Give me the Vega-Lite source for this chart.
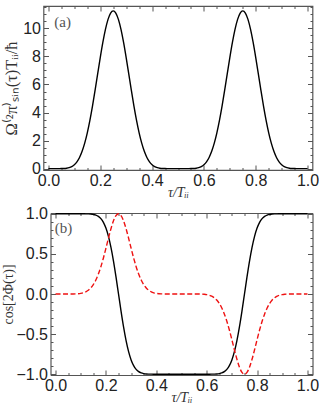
{
  "$schema": "https://vega.github.io/schema/vega-lite/v6.json",
  "padding": {"left": 1.5, "top": 4, "right": 0, "bottom": 0},
  "spacing": 5,
  "datasets": {
    "curves": [
      {"t":0.00,"o":0,"c":1,"s":0},{"t":0.01,"o":0,"c":1,"s":0},{"t":0.02,"o":0,"c":1,"s":0},{"t":0.03,"o":0,"c":1,"s":0},
      {"t":0.04,"o":0.001,"c":1,"s":0},{"t":0.05,"o":0.003,"c":1,"s":0},{"t":0.06,"o":0.010,"c":1,"s":0.0001},
      {"t":0.07,"o":0.029,"c":1,"s":0.0005},{"t":0.08,"o":0.068,"c":1,"s":0.0015},{"t":0.09,"o":0.143,"c":1,"s":0.0035},
      {"t":0.10,"o":0.273,"c":1,"s":0.0075},{"t":0.11,"o":0.481,"c":0.9999,"s":0.0147},{"t":0.12,"o":0.793,"c":0.9996,"s":0.0269},
      {"t":0.13,"o":1.231,"c":0.9989,"s":0.0463},{"t":0.14,"o":1.814,"c":0.9972,"s":0.0755},{"t":0.15,"o":2.552,"c":0.9931,"s":0.1172},
      {"t":0.16,"o":3.441,"c":0.9847,"s":0.1741},{"t":0.17,"o":4.464,"c":0.9687,"s":0.2482},{"t":0.18,"o":5.586,"c":0.9403,"s":0.3403},
      {"t":0.19,"o":6.757,"c":0.8935,"s":0.4490},{"t":0.20,"o":7.917,"c":0.8216,"s":0.5700},{"t":0.21,"o":8.997,"c":0.7187,"s":0.6953},
      {"t":0.22,"o":9.927,"c":0.5814,"s":0.8137},{"t":0.23,"o":10.644,"c":0.4105,"s":0.9119},{"t":0.24,"o":11.096,"c":0.2128,"s":0.9771},
      {"t":0.25,"o":11.25,"c":0,"s":1},
      {"t":0.26,"o":11.096,"c":-0.2128,"s":0.9771},{"t":0.27,"o":10.644,"c":-0.4105,"s":0.9119},{"t":0.28,"o":9.927,"c":-0.5814,"s":0.8137},
      {"t":0.29,"o":8.997,"c":-0.7187,"s":0.6953},{"t":0.30,"o":7.917,"c":-0.8216,"s":0.5700},{"t":0.31,"o":6.757,"c":-0.8935,"s":0.4490},
      {"t":0.32,"o":5.586,"c":-0.9403,"s":0.3403},{"t":0.33,"o":4.464,"c":-0.9687,"s":0.2482},{"t":0.34,"o":3.441,"c":-0.9847,"s":0.1741},
      {"t":0.35,"o":2.552,"c":-0.9931,"s":0.1172},{"t":0.36,"o":1.814,"c":-0.9972,"s":0.0755},{"t":0.37,"o":1.231,"c":-0.9989,"s":0.0463},
      {"t":0.38,"o":0.793,"c":-0.9996,"s":0.0269},{"t":0.39,"o":0.481,"c":-0.9999,"s":0.0147},{"t":0.40,"o":0.273,"c":-1,"s":0.0075},
      {"t":0.41,"o":0.143,"c":-1,"s":0.0035},{"t":0.42,"o":0.068,"c":-1,"s":0.0015},{"t":0.43,"o":0.029,"c":-1,"s":0.0005},
      {"t":0.44,"o":0.010,"c":-1,"s":0.0001},{"t":0.45,"o":0.003,"c":-1,"s":0},{"t":0.46,"o":0.001,"c":-1,"s":0},
      {"t":0.47,"o":0,"c":-1,"s":0},{"t":0.48,"o":0,"c":-1,"s":0},{"t":0.49,"o":0,"c":-1,"s":0},{"t":0.50,"o":0,"c":-1,"s":0},
      {"t":0.51,"o":0,"c":-1,"s":0},{"t":0.52,"o":0,"c":-1,"s":0},{"t":0.53,"o":0,"c":-1,"s":0},
      {"t":0.54,"o":0.001,"c":-1,"s":0},{"t":0.55,"o":0.003,"c":-1,"s":0},{"t":0.56,"o":0.010,"c":-1,"s":-0.0001},
      {"t":0.57,"o":0.029,"c":-1,"s":-0.0005},{"t":0.58,"o":0.068,"c":-1,"s":-0.0015},{"t":0.59,"o":0.143,"c":-1,"s":-0.0035},
      {"t":0.60,"o":0.273,"c":-1,"s":-0.0075},{"t":0.61,"o":0.481,"c":-0.9999,"s":-0.0147},{"t":0.62,"o":0.793,"c":-0.9996,"s":-0.0269},
      {"t":0.63,"o":1.231,"c":-0.9989,"s":-0.0463},{"t":0.64,"o":1.814,"c":-0.9972,"s":-0.0755},{"t":0.65,"o":2.552,"c":-0.9931,"s":-0.1172},
      {"t":0.66,"o":3.441,"c":-0.9847,"s":-0.1741},{"t":0.67,"o":4.464,"c":-0.9687,"s":-0.2482},{"t":0.68,"o":5.586,"c":-0.9403,"s":-0.3403},
      {"t":0.69,"o":6.757,"c":-0.8935,"s":-0.4490},{"t":0.70,"o":7.917,"c":-0.8216,"s":-0.5700},{"t":0.71,"o":8.997,"c":-0.7187,"s":-0.6953},
      {"t":0.72,"o":9.927,"c":-0.5814,"s":-0.8137},{"t":0.73,"o":10.644,"c":-0.4105,"s":-0.9119},{"t":0.74,"o":11.096,"c":-0.2128,"s":-0.9771},
      {"t":0.75,"o":11.25,"c":0,"s":-1},
      {"t":0.76,"o":11.096,"c":0.2128,"s":-0.9771},{"t":0.77,"o":10.644,"c":0.4105,"s":-0.9119},{"t":0.78,"o":9.927,"c":0.5814,"s":-0.8137},
      {"t":0.79,"o":8.997,"c":0.7187,"s":-0.6953},{"t":0.80,"o":7.917,"c":0.8216,"s":-0.5700},{"t":0.81,"o":6.757,"c":0.8935,"s":-0.4490},
      {"t":0.82,"o":5.586,"c":0.9403,"s":-0.3403},{"t":0.83,"o":4.464,"c":0.9687,"s":-0.2482},{"t":0.84,"o":3.441,"c":0.9847,"s":-0.1741},
      {"t":0.85,"o":2.552,"c":0.9931,"s":-0.1172},{"t":0.86,"o":1.814,"c":0.9972,"s":-0.0755},{"t":0.87,"o":1.231,"c":0.9989,"s":-0.0463},
      {"t":0.88,"o":0.793,"c":0.9996,"s":-0.0269},{"t":0.89,"o":0.481,"c":0.9999,"s":-0.0147},{"t":0.90,"o":0.273,"c":1,"s":-0.0075},
      {"t":0.91,"o":0.143,"c":1,"s":-0.0035},{"t":0.92,"o":0.068,"c":1,"s":-0.0015},{"t":0.93,"o":0.029,"c":1,"s":-0.0005},
      {"t":0.94,"o":0.010,"c":1,"s":-0.0001},{"t":0.95,"o":0.003,"c":1,"s":0},{"t":0.96,"o":0.001,"c":1,"s":0},
      {"t":0.97,"o":0,"c":1,"s":0},{"t":0.98,"o":0,"c":1,"s":0},{"t":0.99,"o":0,"c":1,"s":0},{"t":1.00,"o":0,"c":1,"s":0}
    ],
    "labA": [{"t":0.055,"v":10.45,"lab":"(a)"}],
    "labB": [{"t":0.032,"v":0.82,"lab":"(b)"}]
  },
  "vconcat": [
    {
      "width": 269,
      "height": 164,
      "resolve": {"axis": {"x": "independent", "y": "independent"}},
      "layer": [
        {
          "data": {"name": "curves"},
          "mark": {"type": "line", "color": "#000000", "strokeWidth": 1.4, "interpolate": "monotone"},
          "encoding": {
            "x": {"field": "t", "type": "quantitative", "scale": {"domain": [-0.019, 1.019], "nice": false, "zero": false},
                  "axis": {"orient": "bottom", "values": [0,0.2,0.4,0.6,0.8,1], "format": ".1f", "tickSize": -5, "labelPadding": 7, "title": "τ/Tᵢᵢ", "titleFontStyle": "italic", "titlePadding": -3}},
            "y": {"field": "o", "type": "quantitative", "scale": {"domain": [-0.1, 11.6], "nice": false, "zero": false},
                  "axis": {"orient": "left", "values": [0,2,4,6,8,10], "format": "d", "tickSize": -5, "labelPadding": 8, "title": "Ω⁽²π⁾ₛᵢₙ(τ)Tᵢᵢ/ħ", "titleFontSize": 16.5, "titlePadding": 3.5}}
          }
        },
        {
          "data": {"name": "curves"},
          "mark": {"type": "line", "opacity": 0},
          "encoding": {
            "x": {"field": "t", "type": "quantitative", "scale": {"domain": [-0.019, 1.019], "nice": false, "zero": false},
                  "axis": {"orient": "top", "values": [0,0.2,0.4,0.6,0.8,1], "labels": false, "tickSize": -5, "title": null}},
            "y": {"field": "o", "type": "quantitative", "scale": {"domain": [-0.1, 11.6], "nice": false, "zero": false},
                  "axis": {"orient": "right", "values": [0,2,4,6,8,10], "labels": false, "tickSize": -5, "title": null}}
          }
        },
        {
          "data": {"name": "curves"},
          "mark": {"type": "line", "opacity": 0},
          "encoding": {
            "x": {"field": "t", "type": "quantitative", "scale": {"domain": [-0.019, 1.019], "nice": false, "zero": false},
                  "axis": {"orient": "bottom", "values": [0.05,0.1,0.15,0.25,0.3,0.35,0.45,0.5,0.55,0.65,0.7,0.75,0.85,0.9,0.95], "labels": false, "tickSize": -2.5, "title": null}},
            "y": {"field": "o", "type": "quantitative", "scale": {"domain": [-0.1, 11.6], "nice": false, "zero": false},
                  "axis": {"orient": "left", "values": [0.5,1,1.5,2.5,3,3.5,4.5,5,5.5,6.5,7,7.5,8.5,9,9.5,10.5,11,11.5], "labels": false, "tickSize": -2.5, "title": null}}
          }
        },
        {
          "data": {"name": "curves"},
          "mark": {"type": "line", "opacity": 0},
          "encoding": {
            "x": {"field": "t", "type": "quantitative", "scale": {"domain": [-0.019, 1.019], "nice": false, "zero": false},
                  "axis": {"orient": "top", "values": [0.05,0.1,0.15,0.25,0.3,0.35,0.45,0.5,0.55,0.65,0.7,0.75,0.85,0.9,0.95], "labels": false, "tickSize": -2.5, "title": null}},
            "y": {"field": "o", "type": "quantitative", "scale": {"domain": [-0.1, 11.6], "nice": false, "zero": false},
                  "axis": {"orient": "right", "values": [0.5,1,1.5,2.5,3,3.5,4.5,5,5.5,6.5,7,7.5,8.5,9,9.5,10.5,11,11.5], "labels": false, "tickSize": -2.5, "title": null}}
          }
        },
        {
          "data": {"name": "labA"},
          "mark": {"type": "text", "font": "Liberation Serif", "fontSize": 15, "color": "#555555"},
          "encoding": {
            "x": {"field": "t", "type": "quantitative", "axis": null},
            "y": {"field": "v", "type": "quantitative", "axis": null},
            "text": {"field": "lab"}
          }
        }
      ]
    },
    {
      "width": 269,
      "height": 162,
      "view": {"stroke": null},
      "resolve": {"axis": {"x": "independent", "y": "independent"}},
      "layer": [
        {
          "data": {"name": "curves"},
          "mark": {"type": "line", "color": "#000000", "strokeWidth": 1.4, "interpolate": "monotone"},
          "encoding": {
            "x": {"field": "t", "type": "quantitative", "scale": {"domain": [-0.02, 1.02], "range": [7, 269], "nice": false, "zero": false},
                  "axis": {"orient": "bottom", "values": [0,0.2,0.4,0.6,0.8,1], "format": ".1f", "domain": true, "tickSize": -5, "labelPadding": 7, "title": "τ/Tᵢᵢ", "titleFontStyle": "italic", "titlePadding": -3}},
            "y": {"field": "c", "type": "quantitative", "scale": {"domain": [-1.01, 1.01], "nice": false, "zero": false},
                  "axis": {"orient": "left", "offset": -7, "domain": true, "values": [-1,-0.5,0,0.5,1], "format": ".1f", "tickSize": -5, "labelPadding": 8, "title": "cos[2Φ(τ)]", "titlePadding": 0}}
          }
        },
        {
          "data": {"name": "curves"},
          "mark": {"type": "line", "color": "#ee1111", "strokeWidth": 1.4, "strokeDash": [5, 2.5], "interpolate": "monotone"},
          "encoding": {
            "x": {"field": "t", "type": "quantitative", "axis": null},
            "y": {"field": "s", "type": "quantitative", "axis": null}
          }
        },
        {
          "data": {"name": "curves"},
          "mark": {"type": "line", "opacity": 0},
          "encoding": {
            "x": {"field": "t", "type": "quantitative",
                  "axis": {"orient": "top", "domain": true, "values": [0,0.2,0.4,0.6,0.8,1], "labels": false, "tickSize": -5, "title": null}},
            "y": {"field": "c", "type": "quantitative",
                  "axis": {"orient": "right", "domain": true, "values": [-1,-0.5,0,0.5,1], "labels": false, "tickSize": -5, "title": null}}
          }
        },
        {
          "data": {"name": "curves"},
          "mark": {"type": "line", "opacity": 0},
          "encoding": {
            "x": {"field": "t", "type": "quantitative",
                  "axis": {"orient": "bottom", "values": [0.05,0.1,0.15,0.25,0.3,0.35,0.45,0.5,0.55,0.65,0.7,0.75,0.85,0.9,0.95], "labels": false, "tickSize": -2.5, "title": null}},
            "y": {"field": "c", "type": "quantitative",
                  "axis": {"orient": "left", "offset": -7, "values": [-0.9,-0.8,-0.7,-0.6,-0.4,-0.3,-0.2,-0.1,0.1,0.2,0.3,0.4,0.6,0.7,0.8,0.9], "labels": false, "tickSize": -2.5, "title": null}}
          }
        },
        {
          "data": {"name": "curves"},
          "mark": {"type": "line", "opacity": 0},
          "encoding": {
            "x": {"field": "t", "type": "quantitative",
                  "axis": {"orient": "top", "values": [0.05,0.1,0.15,0.25,0.3,0.35,0.45,0.5,0.55,0.65,0.7,0.75,0.85,0.9,0.95], "labels": false, "tickSize": -2.5, "title": null}},
            "y": {"field": "c", "type": "quantitative",
                  "axis": {"orient": "right", "values": [-0.9,-0.8,-0.7,-0.6,-0.4,-0.3,-0.2,-0.1,0.1,0.2,0.3,0.4,0.6,0.7,0.8,0.9], "labels": false, "tickSize": -2.5, "title": null}}
          }
        },
        {
          "data": {"name": "labB"},
          "mark": {"type": "text", "font": "Liberation Serif", "fontSize": 15, "color": "#555555"},
          "encoding": {
            "x": {"field": "t", "type": "quantitative", "axis": null},
            "y": {"field": "v", "type": "quantitative", "axis": null},
            "text": {"field": "lab"}
          }
        }
      ]
    }
  ],
  "config": {
    "view": {"stroke": "#555555", "strokeWidth": 1.2},
    "axis": {
      "domain": false,
      "domainColor": "#555555",
      "domainWidth": 1.2,
      "grid": false,
      "tickColor": "#555555",
      "tickWidth": 1,
      "labelFont": "Liberation Sans",
      "labelFontSize": 16,
      "labelColor": "#222222",
      "titleFont": "Liberation Serif",
      "titleFontSize": 14,
      "titleFontWeight": "normal",
      "titleColor": "#333333"
    }
  }
}
